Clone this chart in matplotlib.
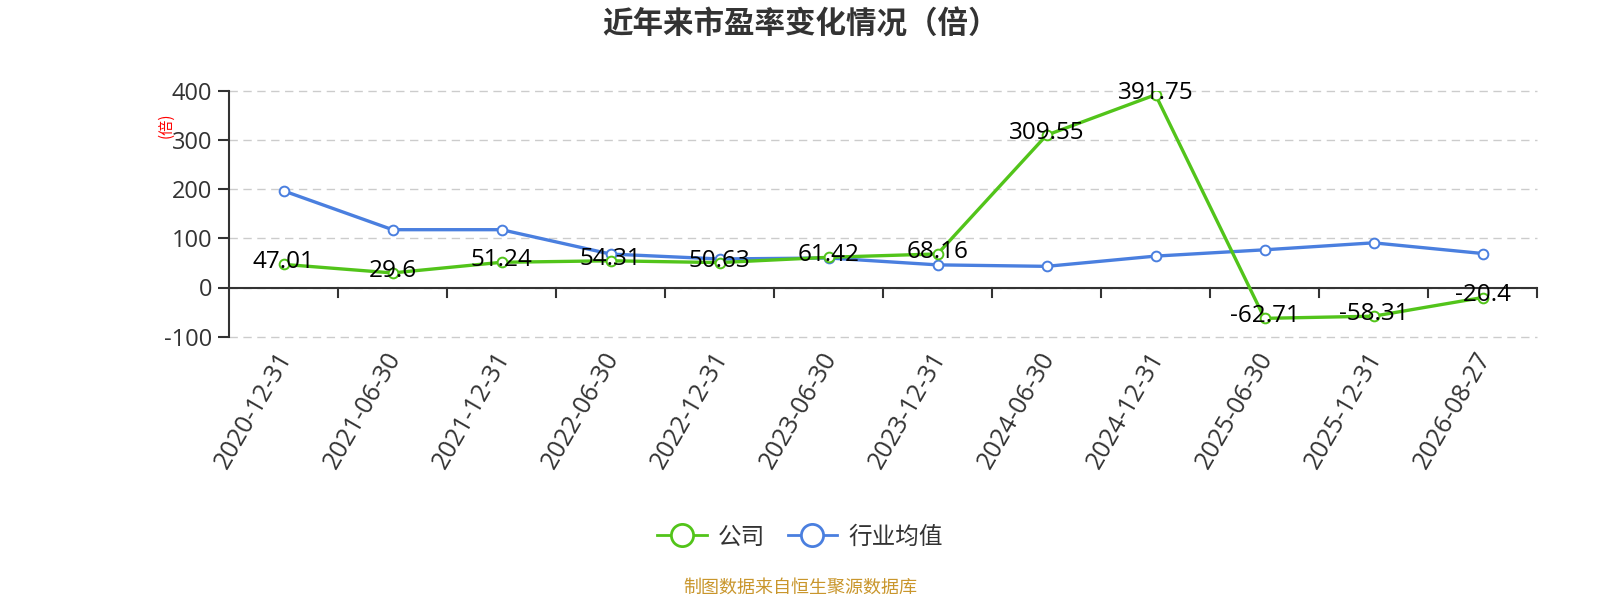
import matplotlib
matplotlib.use('Agg')
import matplotlib.pyplot as plt
from matplotlib.lines import Line2D
from matplotlib.transforms import ScaledTranslation
import numpy as np

# ── Fonts ─────────────────────────────────────────────────────────────────────
plt.rcParams['font.family'] = ['Open Sans', 'Noto Sans CJK SC', 'DejaVu Sans']
plt.rcParams['axes.unicode_minus'] = False
CJK = ['Noto Sans CJK SC', 'DejaVu Sans']

# ── Data ──────────────────────────────────────────────────────────────────────
dates = ['2020-12-31', '2021-06-30', '2021-12-31', '2022-06-30', '2022-12-31',
         '2023-06-30', '2023-12-31', '2024-06-30', '2024-12-31', '2025-06-30',
         '2025-12-31', '2026-08-27']
company = [47.01, 29.6, 51.24, 54.31, 50.63, 61.42, 68.16, 309.55, 391.75,
           -62.71, -58.31, -20.4]
industry = [196.5, 117.5, 117.5, 68.0, 58.0, 60.0, 46.0, 43.0, 63.8, 76.6,
            90.8, 69.1]
y_ticks = [-100, 0, 100, 200, 300, 400]

# ── Theme ─────────────────────────────────────────────────────────────────────
GREEN = '#52c41a'
BLUE = '#4a7fdf'
TEXT = '#333333'
GRID = '#cccccc'
FOOT = '#c9962c'

fig = plt.figure(figsize=(16, 6), dpi=100)
ax = fig.add_axes([229 / 1600, 1 - 336.7 / 600, 1308 / 1600, 246 / 600])

x = np.arange(len(dates))
ax.set_xlim(-0.5, len(dates) - 0.5)
ax.set_ylim(-100, 400)

# grid
ax.set_yticks(y_ticks)
for yv in y_ticks:
    ax.axhline(yv, color=GRID, linewidth=1.0, linestyle=(0, (6, 4)), zorder=0,
               clip_on=False)

# lines
ax.plot(x, industry, color=BLUE, linewidth=2.4, marker='o', markersize=7,
        markerfacecolor='white', markeredgecolor=BLUE, markeredgewidth=1.4, zorder=3)
ax.plot(x, company, color=GREEN, linewidth=2.4, marker='o', markersize=7,
        markerfacecolor='white', markeredgecolor=GREEN, markeredgewidth=1.4, zorder=4)

# data labels (company)
for xi, v in zip(x, company):
    ax.annotate(f'{v:g}', (xi, v), xytext=(0, 1.5), textcoords='offset points',
                ha='center', va='center', fontsize=17.5, color='black', zorder=5)

# spines / axes
for s in ('top', 'right', 'bottom'):
    ax.spines[s].set_visible(False)
ax.spines['left'].set_color(TEXT)
ax.spines['left'].set_linewidth(1.5)
ax.axhline(0, color=TEXT, linewidth=1.5, zorder=2)

# x ticks at category boundaries, labels at centers
ax.set_xticks(x)
ax.set_xticklabels(dates, rotation=60, ha='right', va='center',
                   rotation_mode='anchor', fontsize=18, color=TEXT)
ax.tick_params(axis='x', length=0, pad=0)
shift = ScaledTranslation(0.03, -0.17, fig.dpi_scale_trans)
for lbl in ax.get_xticklabels():
    lbl.set_transform(lbl.get_transform() + shift)
for b in np.arange(0.5, len(dates) - 0.5 + 1e-9, 1.0):
    ax.plot([b, b], [0, -20], color=TEXT, linewidth=1.5, clip_on=False, zorder=2)

ax.tick_params(axis='y', length=8, width=1.5, color=TEXT, labelsize=17,
               labelcolor=TEXT, pad=4)

# title, axis name, footer
fig.text(801 / 1600, 1 - 25 / 600, '近年来市盈率变化情况（倍）', ha='center', va='center',
         fontsize=22, fontweight='bold', color=TEXT, family=CJK)
fig.text(166 / 1600, 1 - 125 / 600, '(倍)', ha='center', va='center',
         rotation=90, fontsize=11, color='red', family=CJK)
fig.text(800 / 1600, 1 - 588 / 600, '制图数据来自恒生聚源数据库', ha='center', va='center',
         fontsize=13, color=FOOT, family=CJK)

# legend
handles = [
    Line2D([0], [0], color=GREEN, linewidth=2, marker='o', markersize=16,
           markerfacecolor='white', markeredgecolor=GREEN, markeredgewidth=2),
    Line2D([0], [0], color=BLUE, linewidth=2, marker='o', markersize=16,
           markerfacecolor='white', markeredgecolor=BLUE, markeredgewidth=2),
]
fig.legend(handles, ['公司', '行业均值'], loc='center', ncol=2, frameon=False,
           bbox_to_anchor=(800 / 1600, 1 - 537 / 600), labelcolor=TEXT,
           prop={'family': CJK, 'size': 17},
           handlelength=2.1, columnspacing=0.95, handletextpad=0.47)

fig.savefig('out.png', dpi=100)
